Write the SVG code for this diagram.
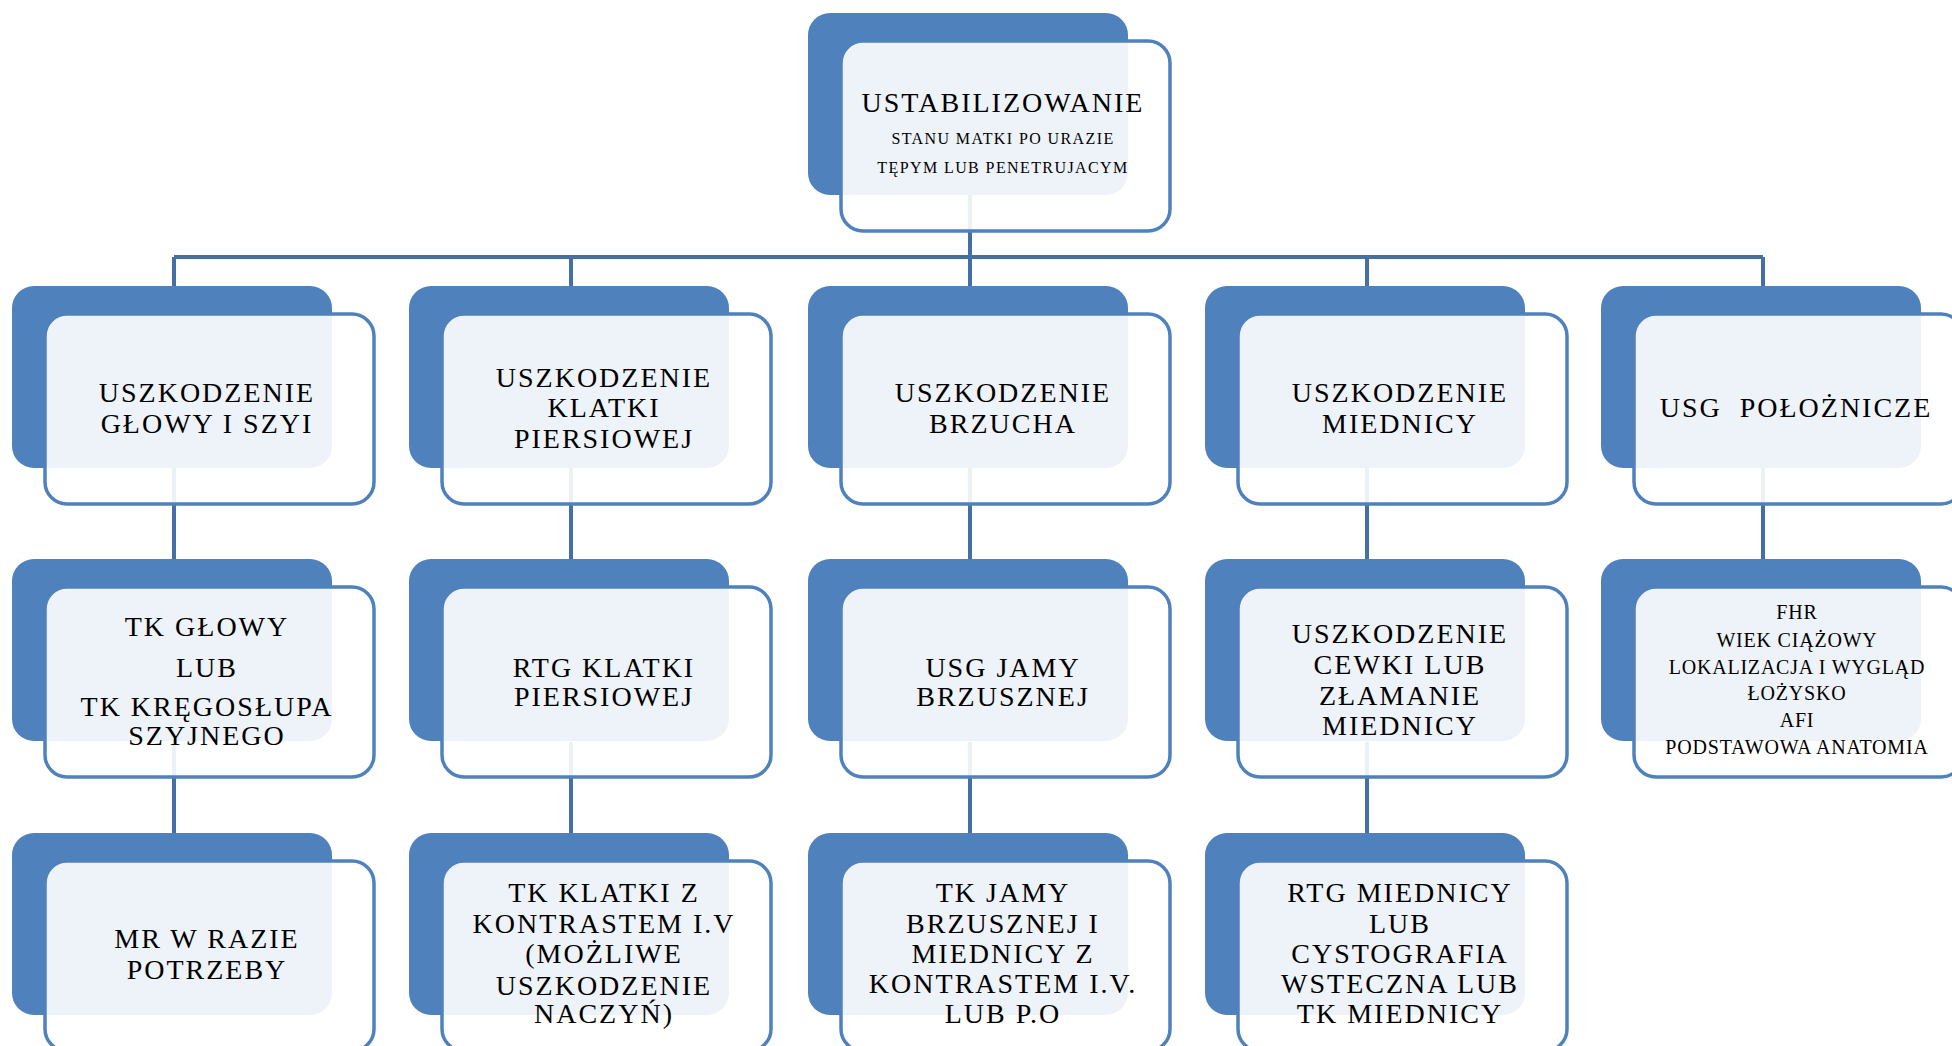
<svg xmlns="http://www.w3.org/2000/svg" width="1952" height="1046" viewBox="0 0 1952 1046">
<style>
.back{fill:#4F81BD}
.front{fill:#ffffff;fill-opacity:0.9;stroke:#4F81BD;stroke-width:3.5}
.con{stroke:#4470A6;stroke-width:4;fill:none}
text{font-family:"Liberation Serif","Times New Roman",serif;fill:#000;text-anchor:middle}
.t{font-size:28px;letter-spacing:2px}
.s{font-size:16px;letter-spacing:1.4px}
.m{font-size:20px;letter-spacing:0.8px}
</style>
<defs>
<rect id="bk" class="back" width="320" height="182" rx="22"/>
<rect id="fr" class="front" x="33" y="28" width="329" height="190" rx="22"/>
</defs>
<g id="connectors">
<path class="con" d="M970 194V257M174 257H1763M174 257V286M571 257V286M970 257V286M1367 257V286M1763 257V286"/>
<path class="con" d="M174 468V559M571 468V559M970 468V559M1367 468V559M1763 468V559"/>
<path class="con" d="M174 742V833M571 742V833M970 742V833M1367 742V833"/>
</g>
<g id="n0" transform="translate(808,13)"><use href="#bk"/><use href="#fr"/>
<text class="t" x="195" y="99">USTABILIZOWANIE</text>
<text class="s" x="195" y="131">STANU MATKI PO URAZIE</text>
<text class="s" x="195" y="160">TĘPYM LUB PENETRUJACYM</text></g>
<g id="n1" transform="translate(12,286)"><use href="#bk"/><use href="#fr"/>
<text class="t" x="195" y="116">USZKODZENIE</text>
<text class="t" x="195" y="147">GŁOWY I SZYI</text></g>
<g id="n2" transform="translate(409,286)"><use href="#bk"/><use href="#fr"/>
<text class="t" x="195" y="101">USZKODZENIE</text>
<text class="t" x="195" y="131">KLATKI</text>
<text class="t" x="195" y="162">PIERSIOWEJ</text></g>
<g id="n3" transform="translate(808,286)"><use href="#bk"/><use href="#fr"/>
<text class="t" x="195" y="116">USZKODZENIE</text>
<text class="t" x="195" y="147">BRZUCHA</text></g>
<g id="n4" transform="translate(1205,286)"><use href="#bk"/><use href="#fr"/>
<text class="t" x="195" y="116">USZKODZENIE</text>
<text class="t" x="195" y="147">MIEDNICY</text></g>
<g id="n5" transform="translate(1601,286)"><use href="#bk"/><use href="#fr"/>
<text class="t" x="195" y="131" xml:space="preserve">USG  POŁOŻNICZE</text></g>
<g id="n6" transform="translate(12,559)"><use href="#bk"/><use href="#fr"/>
<text class="t" x="195" y="77">TK GŁOWY</text>
<text class="t" x="195" y="118">LUB</text>
<text class="t" x="195" y="157">TK KRĘGOSŁUPA</text>
<text class="t" x="195" y="186">SZYJNEGO</text></g>
<g id="n7" transform="translate(409,559)"><use href="#bk"/><use href="#fr"/>
<text class="t" x="195" y="118">RTG KLATKI</text>
<text class="t" x="195" y="147">PIERSIOWEJ</text></g>
<g id="n8" transform="translate(808,559)"><use href="#bk"/><use href="#fr"/>
<text class="t" x="195" y="118">USG JAMY</text>
<text class="t" x="195" y="147">BRZUSZNEJ</text></g>
<g id="n9" transform="translate(1205,559)"><use href="#bk"/><use href="#fr"/>
<text class="t" x="195" y="84">USZKODZENIE</text>
<text class="t" x="195" y="115">CEWKI LUB</text>
<text class="t" x="195" y="146">ZŁAMANIE</text>
<text class="t" x="195" y="176">MIEDNICY</text></g>
<g id="n10" transform="translate(1601,559)"><use href="#bk"/><use href="#fr"/>
<text class="m" x="196" y="60">FHR</text>
<text class="m" x="196" y="88">WIEK CIĄŻOWY</text>
<text class="m" x="196" y="115">LOKALIZACJA I WYGLĄD</text>
<text class="m" x="196" y="141">ŁOŻYSKO</text>
<text class="m" x="196" y="168">AFI</text>
<text class="m" x="196" y="195">PODSTAWOWA ANATOMIA</text></g>
<g id="n11" transform="translate(12,833)"><use href="#bk"/><use href="#fr"/>
<text class="t" x="195" y="115">MR W RAZIE</text>
<text class="t" x="195" y="146">POTRZEBY</text></g>
<g id="n12" transform="translate(409,833)"><use href="#bk"/><use href="#fr"/>
<text class="t" x="195" y="69">TK KLATKI Z</text>
<text class="t" x="195" y="100">KONTRASTEM I.V</text>
<text class="t" x="195" y="130">(MOŻLIWE</text>
<text class="t" x="195" y="162">USZKODZENIE</text>
<text class="t" x="195" y="190">NACZYŃ)</text></g>
<g id="n13" transform="translate(808,833)"><use href="#bk"/><use href="#fr"/>
<text class="t" x="195" y="69">TK JAMY</text>
<text class="t" x="195" y="100">BRZUSZNEJ I</text>
<text class="t" x="195" y="130">MIEDNICY Z</text>
<text class="t" x="195" y="160">KONTRASTEM I.V.</text>
<text class="t" x="195" y="190">LUB P.O</text></g>
<g id="n14" transform="translate(1205,833)"><use href="#bk"/><use href="#fr"/>
<text class="t" x="195" y="69">RTG MIEDNICY</text>
<text class="t" x="195" y="100">LUB</text>
<text class="t" x="195" y="130">CYSTOGRAFIA</text>
<text class="t" x="195" y="160">WSTECZNA LUB</text>
<text class="t" x="195" y="190">TK MIEDNICY</text></g>
</svg>
